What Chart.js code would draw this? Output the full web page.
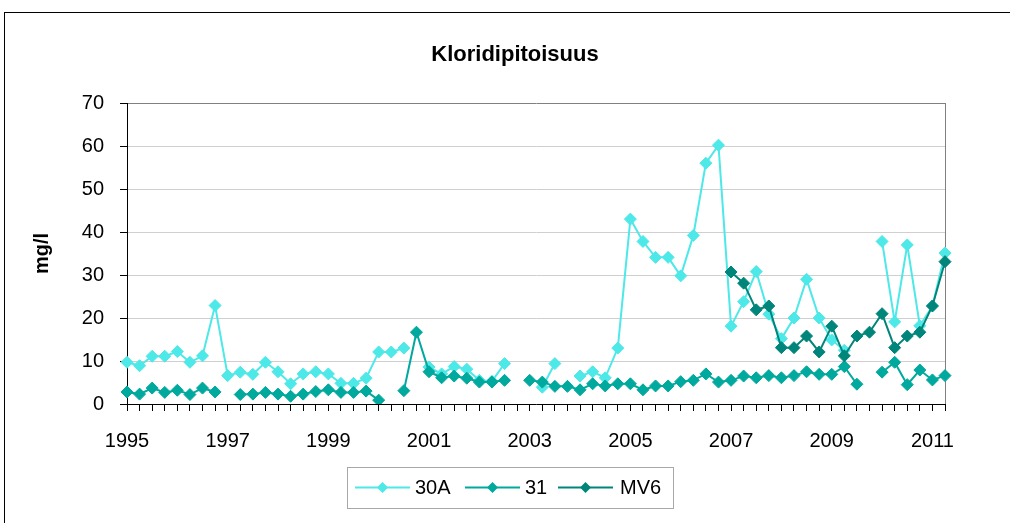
<!DOCTYPE html>
<html>
<head>
<meta charset="utf-8">
<script src="https://cdn.jsdelivr.net/npm/chart.js@4/dist/chart.umd.min.js"></script>
<style>
  html, body { margin: 0; padding: 0; background: #fff; overflow: hidden; }
  #wrap { position: relative; width: 1010px; height: 523px; overflow: hidden; }
  #frame { position: absolute; left: 4px; top: 12px; width: 1200px; height: 700px; border: 1px solid #000; background: #fff; }
  #c { position: absolute; left: 0; top: 0; }
</style>
</head>
<body>
<div id="wrap">
  <div id="frame"></div>
  <canvas id="c" width="1010" height="523"></canvas>
</div>
<script>
// Quarterly categories (year-quarter)
const categories = [
  "1995-1","1995-2","1995-3","1995-4","1996-1","1996-2","1996-3","1996-4",
  "1997-1","1997-2","1997-3","1997-4","1998-1","1998-2","1998-3","1998-4",
  "1999-1","1999-2","1999-3","1999-4","2000-1","2000-2","2000-3","2000-4",
  "2001-1","2001-2","2001-3","2001-4","2002-1","2002-2","2002-3","2002-4",
  "2003-1","2003-2","2003-3","2003-4","2004-1","2004-2","2004-3","2004-4",
  "2005-1","2005-2","2005-3","2005-4","2006-1","2006-2","2006-3","2006-4",
  "2007-1","2007-2","2007-3","2007-4","2008-1","2008-2","2008-3","2008-4",
  "2009-1","2009-2","2009-3","2009-4","2010-1","2010-2","2010-3","2010-4",
  "2011-1","2011-2"
];
const tickLabels = ["1995","1997","1999","2001","2003","2005","2007","2009","2011"];

const s30A = [
  9.7, 8.9, 11.1, 11.1, 12.2, 9.7, 11.2, 22.9,
  6.6, 7.4, 6.9, 9.7, 7.5, 4.7, 7.0, 7.5,
  7.0, 4.8, 4.8, 6.0, 12.1, 12.1, 13.0, null,
  8.6, 7.0, 8.7, 8.1, 5.5, 5.3, 9.4, null,
  null, 3.9, 9.4, null, 6.5, 7.5, 6.1, 13.0,
  43.0, 37.8, 34.1, 34.1, 29.8, 39.2, 56.0, 60.2,
  18.1, 23.8, 30.8, 20.9, 15.2, 20.0, 29.0, 20.0,
  14.9, 12.5, null, null, 37.8, 19.1, 37.0, 18.2,
  22.8, 35.1
];
const s31 = [
  2.8, 2.3, 3.7, 2.7, 3.2, 2.2, 3.7, 2.8,
  null, 2.2, 2.3, 2.7, 2.3, 1.8, 2.3, 2.9,
  3.3, 2.7, 2.7, 3.0, 0.9, null, 3.1, 16.7,
  7.5, 6.1, 6.5, 6.0, 5.1, 5.1, 5.5, null,
  5.5, 5.1, 4.1, 4.1, 3.3, 4.7, 4.2, 4.7,
  4.7, 3.3, 4.2, 4.2, 5.2, 5.5, 7.0, 5.1,
  5.5, 6.5, 6.1, 6.6, 6.1, 6.6, 7.5, 6.9,
  6.9, 8.7, 4.6, null, 7.4, 9.7, 4.5, 7.9,
  5.6, 6.6
];
const sMV6 = [
  null, null, null, null, null, null, null, null,
  null, null, null, null, null, null, null, null,
  null, null, null, null, null, null, null, null,
  null, null, null, null, null, null, null, null,
  null, null, null, null, null, null, null, null,
  null, null, null, null, null, null, null, null,
  30.7, 28.1, 21.9, 22.8, 13.1, 13.1, 15.8, 12.1,
  18.1, 11.2, 15.8, 16.7, 21.0, 13.1, 15.8, 16.7,
  22.8, 33.1
];

const seriesNames = ["30A", "31", "MV6"];
const seriesColors = ["#4DE8E8", "#00A99D", "#00857A"];
const seriesData = [s30A, s31, sMV6];

const FONT = "'Liberation Sans', Arial, sans-serif";

const frameLines = {
  id: 'frameLines',
  beforeDatasetsDraw(chart) {
    const {ctx, chartArea} = chart;
    ctx.save();
    ctx.strokeStyle = '#808080';
    ctx.lineWidth = 1;
    ctx.beginPath();
    ctx.moveTo(Math.round(chartArea.right) + 0.5, chartArea.top);
    ctx.lineTo(Math.round(chartArea.right) + 0.5, chartArea.bottom);
    ctx.stroke();
    ctx.restore();
  }
};

const customLegend = {
  id: 'customLegend',
  afterDraw(chart) {
    const ctx = chart.ctx;
    ctx.save();
    ctx.strokeStyle = '#A8A8A8';
    ctx.lineWidth = 1;
    ctx.strokeRect(347.5, 467.5, 326, 41);
    const cy = 487.5;
    const lineStarts = [355, 465, 558];
    const textStarts = [415, 525, 620];
    ctx.font = '20px ' + FONT;
    ctx.textBaseline = 'middle';
    ctx.textAlign = 'left';
    for (let i = 0; i < seriesNames.length; i++) {
      const x0 = lineStarts[i];
      ctx.strokeStyle = seriesColors[i];
      ctx.lineWidth = 2;
      ctx.beginPath();
      ctx.moveTo(x0, cy);
      ctx.lineTo(x0 + 55, cy);
      ctx.stroke();
      const mx = x0 + 27.5, r = 5.5;
      ctx.fillStyle = seriesColors[i];
      ctx.beginPath();
      ctx.moveTo(mx - r, cy);
      ctx.lineTo(mx, cy - r);
      ctx.lineTo(mx + r, cy);
      ctx.lineTo(mx, cy + r);
      ctx.closePath();
      ctx.fill();
      ctx.fillStyle = '#000';
      ctx.fillText(seriesNames[i], textStarts[i], cy + 1);
    }
    ctx.restore();
  }
};

const datasets = seriesNames.map((name, i) => ({
  label: name,
  data: seriesData[i],
  yAxisID: 'y',
  borderColor: seriesColors[i],
  backgroundColor: seriesColors[i],
  pointBackgroundColor: seriesColors[i],
  pointBorderColor: seriesColors[i],
  pointStyle: 'rectRot',
  pointRadius: 6,
  pointBorderWidth: 1,
  borderWidth: 2,
  tension: 0,
  spanGaps: false,
  order: seriesNames.length - i
}));

new Chart(document.getElementById('c'), {
  type: 'line',
  data: { labels: categories, datasets },
  options: {
    responsive: false,
    animation: false,
    devicePixelRatio: 1,
    layout: { padding: { left: 20, right: 0, top: 0, bottom: 52 } },
    plugins: {
      legend: { display: false },
      tooltip: { enabled: false },
      title: {
        display: true,
        text: 'Kloridipitoisuus',
        color: '#000',
        font: { family: FONT, size: 22, weight: 'bold' },
        padding: { top: 42, bottom: 34.6 }
      }
    },
    scales: {
      x: {
        type: 'category',
        offset: false,
        grid: {
          display: true,
          drawOnChartArea: false,
          drawTicks: true,
          tickLength: 7,
          color: '#000',
          tickColor: '#000'
        },
        border: { display: true, color: '#000', width: 1 },
        ticks: {
          autoSkip: false,
          maxRotation: 0,
          minRotation: 0,
          padding: 18,
          color: '#000',
          font: { family: FONT, size: 20 },
          callback: function(value, index) {
            const c = categories[index];
            const yr = c.slice(0, 4);
            return (c.endsWith('-1') && tickLabels.includes(yr)) ? yr : '';
          }
        }
      },
      y: {
        min: 0,
        max: 70,
        afterFit(scale) { scale.width = 107; },
        grid: {
          color: (ctx) => (ctx.tick && ctx.tick.value === 70) ? '#808080' : '#CFCFCF',
          tickColor: '#000',
          tickLength: 7,
          lineWidth: 1
        },
        border: { display: true, color: '#000', width: 1 },
        ticks: {
          stepSize: 10,
          padding: 16,
          color: '#000',
          font: { family: FONT, size: 20 }
        },
        title: {
          display: true,
          text: 'mg/l',
          color: '#000',
          font: { family: FONT, size: 20, weight: 'bold' },
          padding: { top: 10, bottom: 0 }
        }
      },
      ySpace: {
        type: 'linear',
        position: 'right',
        display: true,
        afterFit(scale) { scale.width = 65; },
        grid: { display: false, drawTicks: false },
        border: { display: false },
        ticks: { display: false },
        title: { display: false }
      }
    }
  },
  plugins: [frameLines, customLegend]
});
</script>
</body>
</html>
